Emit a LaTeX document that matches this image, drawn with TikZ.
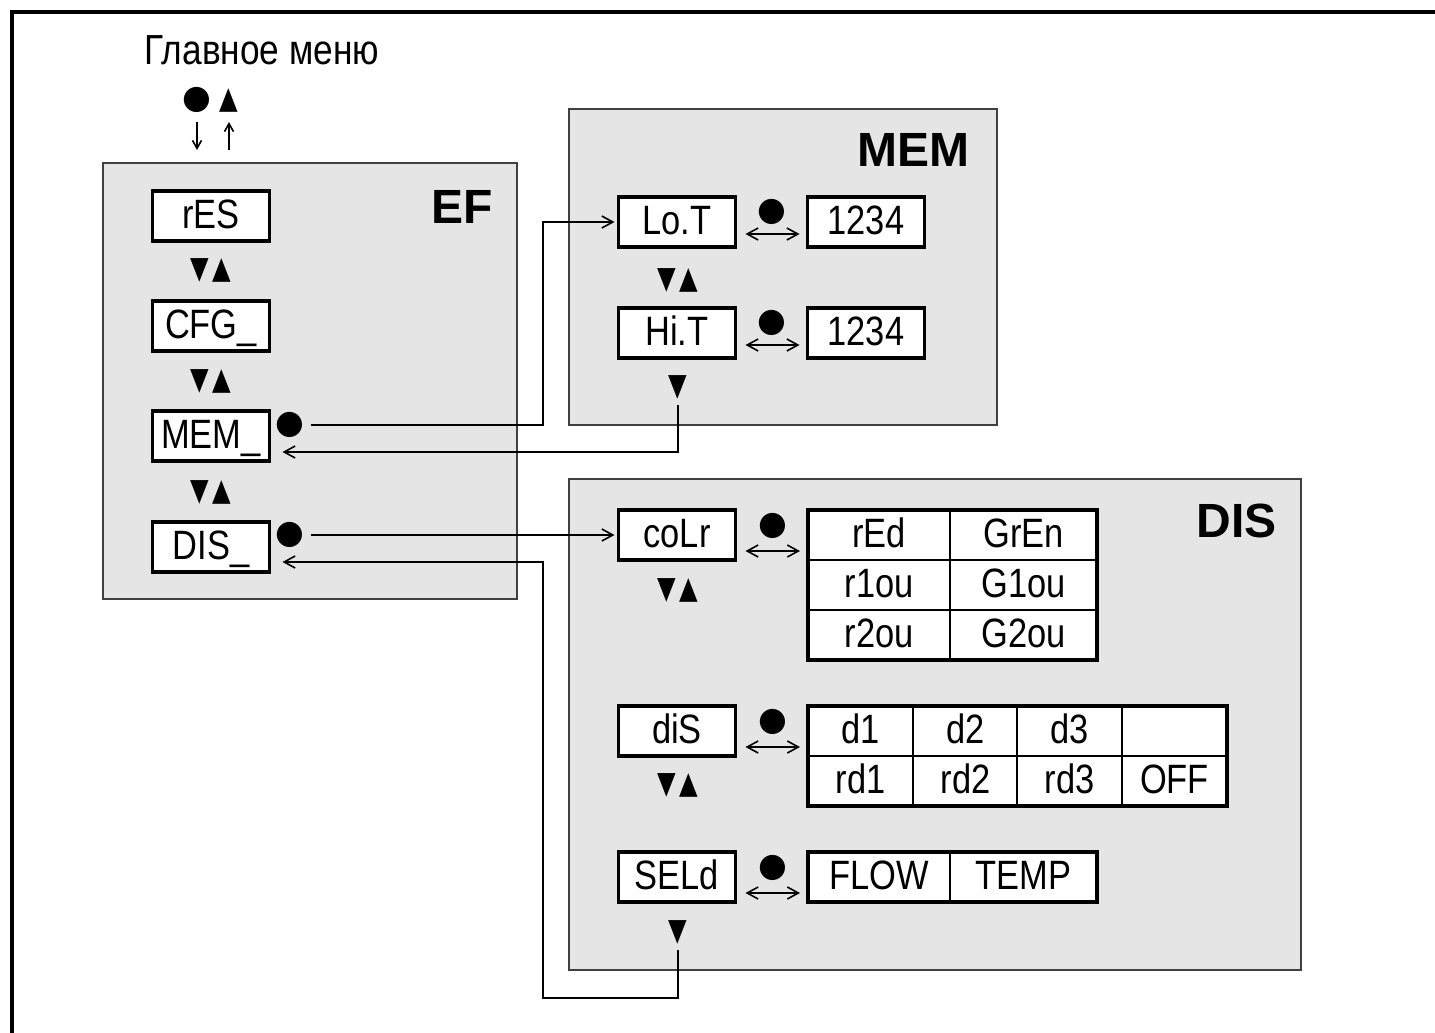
\documentclass[tikz,border=0pt]{standalone}
\usepackage{fontspec}
\setmainfont[FakeStretch=0.84]{Liberation Sans}
\newfontfamily\headfont{Liberation Sans}
\newfontfamily\symfont{DejaVu Sans}
\newfontfamily\keyfont[FakeStretch=0.78]{DejaVu Sans}
\usetikzlibrary{arrows.meta,positioning,calc}

\tikzset{
  panel/.style={draw=black!75, fill=black!10, line width=1.5pt, anchor=north west, inner sep=0pt},
  disp/.style={draw, fill=white, line width=3.5pt, minimum width=117pt, inner xsep=0pt, inner ysep=0pt,
    text height=37pt, text depth=13pt, font=\fontsize{41}{44}\selectfont, outer sep=0pt},
  cell/.style={disp, line width=2.5pt, anchor=north west},
  hdr/.style={font=\headfont\bfseries\fontsize{48}{52}\selectfont, anchor=east, inner sep=0pt},
  keys/.style={font=\keyfont\fontsize{31}{33}\selectfont, inner sep=0pt},
  dot/.style={font=\symfont\fontsize{33}{35}\selectfont, inner sep=0pt},
  wire/.style={line width=1.6pt},
  tip/.style={-{Straight Barb[length=11pt,width=12pt]}},
  both/.style={{Straight Barb[length=11pt,width=12pt]}-{Straight Barb[length=11pt,width=12pt]}},
  small/.style={-{Straight Barb[length=8pt,width=9pt]}}
}
\newcommand\updown{▼\hspace{4pt}▲}

\begin{document}
\begin{tikzpicture}[x=1pt,y=-1pt]
\useasboundingbox (0,0) rectangle (1435,1033);
% outer frame
\draw[line width=4pt] (12,1033) -- (12,12) -- (1435,12);

% main menu entry
\node[font=\fontsize{42}{46}\selectfont, inner sep=0pt] (title) at (262,50) {Главное меню};
\node[dot] (mdot) at (197,100) {●};
\node[keys] (mup) at (229,100) {▲};

% panels
\node[panel, minimum width=414pt, minimum height=436pt] (ef) at (102,162) {};
\node[panel, minimum width=428pt, minimum height=316pt] (mempanel) at (568,108) {};
\node[panel, minimum width=732pt, minimum height=491pt] (dispanel) at (568,478) {};
\node[hdr] (efhdr) at (493,207) {EF};
\node[hdr] (memhdr) at (970,150) {MEM};
\node[hdr] (dishdr) at (1277,521) {DIS};

\draw[wire,small] (197,122) -- (mdot |- 0,150);
\draw[wire,small] (229,150) -- (mup |- 0,122);

% EF column
\foreach \name/\txt/\y in {res/rES/216, cfg/CFG\_/326, mem/MEM\_/436, dis/DIS\_/547}
  \node[disp] (\name) at (211,\y) {\txt};
\foreach \y in {270,381,492}
  \node[keys] (k\y) at (211,\y) {\updown};
\node[dot] (memdot) at (290,425) {●};
\node[dot] (disdot) at (290,535) {●};

% MEM panel
\node[disp] (lot) at (677,222) {Lo.T};
\node[disp] (hit) at (677,333) {Hi.T};
\node[disp] (lotv) at (866,222) {1234};
\node[disp] (hitv) at (866,333) {1234};
\node[keys] (memkeys) at (678,280) {\updown};
\node[keys] (memend) at (678,387) {▼};
\foreach \a/\b in {lot/lotv, hit/hitv} {
  \node[dot] (\a dot) at ($(\a.east)!0.5!(\b.west)+(0,-10)$) {●};
  \draw[wire,both] ([xshift=10pt,yshift=-12pt]\a.east) -- ([xshift=-8pt,yshift=-12pt]\b.west);
}

% DIS panel
\node[disp] (colr) at (677,535) {coLr};
\node[disp] (dis2) at (677,731) {diS};
\node[disp] (seld) at (677,877) {SELd};
\node[keys] (diskeys1) at (678,590) {\updown};
\node[keys] (diskeys2) at (678,785) {\updown};
\node[keys] (disend) at (678,932) {▼};

\foreach \t/\x/\y/\w in {rEd/808/510/142, GrEn/950/510/147, r1ou/808/560/142, G1ou/950/560/147,
    r2ou/808/610/142, G2ou/950/610/147}
  \node[cell, minimum width=\w pt] (c-\t) at (\x,\y) {\t};
\draw[line width=3.5pt] (c-rEd.north west) rectangle (c-G2ou.south east);

\foreach \t/\n/\x/\y in {d1/11/808/706, d2/12/913/706, d3/13/1017/706, {}/14/1122/706,
    rd1/21/808/756, rd2/22/913/756, rd3/23/1017/756, OFF/24/1122/756}
  \node[cell, minimum width=105pt] (d-\n) at (\x,\y) {\t};
\draw[line width=3.5pt] (d-11.north west) rectangle (d-24.south east);

\node[cell, minimum width=142pt] (flow) at (808,852) {FLOW};
\node[cell, minimum width=147pt] (temp) at (950,852) {TEMP};
\draw[line width=3.5pt] (flow.north west) rectangle (temp.south east);

\foreach \a/\b in {colr/c-rEd, dis2/d-11, seld/flow} {
  \node[dot] (\a dot) at ([xshift=37pt,yshift=9pt]\a.east) {●};
  \draw[wire,both] ([xshift=10pt,yshift=-16pt]\a.east) -- ([xshift=-8pt,yshift=-16pt]\a.east -| \b.west);
}

% connectors between panels
\coordinate (bendx) at (543,0);
\coordinate (lowrow) at (543,998);
\draw[wire,tip] ([xshift=6pt]memdot.east) -- (memdot.east -| bendx) -- (bendx |- lot.west) -- ([xshift=-4pt]lot.west);
\draw[wire,tip] ([yshift=-6pt]memend.south) |- ([xshift=13pt,yshift=-16pt]mem.east);
\draw[wire,tip] ([xshift=6pt]disdot.east) -- ([xshift=-4pt]disdot.east -| colr.west);
\draw[wire,tip] ([yshift=-6pt]disend.south) |- (lowrow) |- ([xshift=13pt,yshift=-15pt]dis.east);
\end{tikzpicture}
\end{document}
